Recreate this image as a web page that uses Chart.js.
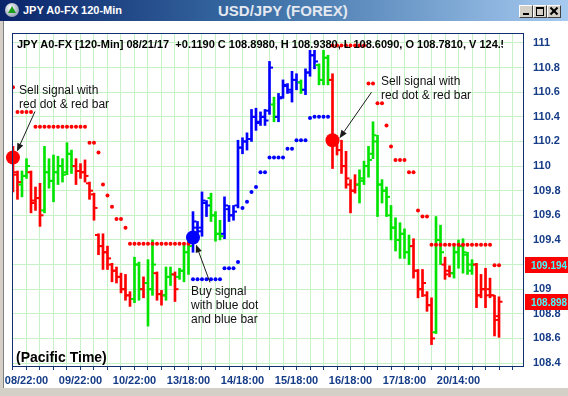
<!DOCTYPE html>
<html><head><meta charset="utf-8">
<script src="https://cdn.jsdelivr.net/npm/chart.js@4/dist/chart.umd.min.js"></script>
<style>
html,body{margin:0;padding:0;background:#fff;width:568px;height:396px;overflow:hidden;font-family:Arial,"Liberation Sans",sans-serif;}
#wrap{position:relative;width:568px;height:396px;background:#fff;}
canvas{position:absolute;left:0;top:0;}
.abs{position:absolute;white-space:nowrap;}
#titlebar{left:0;top:0;width:568px;height:21px;background:linear-gradient(to right,#0a246a 0%,#3a6ea5 45%,#a6caf0 100%);}
#t1{left:23px;top:4px;font-size:11px;font-weight:bold;color:#fff;line-height:13px;}
#t2{left:218px;top:2px;font-size:15px;font-weight:bold;color:#e4e8f0;line-height:17px;}
#icon{left:5px;top:3px;width:14px;height:14px;border-radius:50%;background:radial-gradient(circle at 40% 35%,#ffffff,#9aa6b8 70%,#4a5668);}
#icontri{left:8px;top:6px;width:0;height:0;border-left:4px solid transparent;border-right:4px solid transparent;border-bottom:7px solid #1aa01a;}
.btn{top:5px;width:12px;height:11px;background:#d4d0c8;border-top:1px solid #fff;border-left:1px solid #fff;border-right:1px solid #404040;border-bottom:1px solid #404040;}
#leftframe{left:0;top:21px;width:4px;height:375px;background:#d4d0c8;border-right:1px solid #808080;box-sizing:border-box;}
#bottomframe{left:0;top:388px;width:568px;height:8px;background:#d4d0c8;}
#hdrclip{left:17px;top:37px;width:486px;height:14px;overflow:hidden;}
#hdr{left:0;top:0;font-size:11px;font-weight:bold;color:#000;line-height:14px;}
#pt{left:16px;top:349px;font-size:14px;font-weight:bold;color:#000;line-height:16px;}
.note{font-size:12px;color:#111;line-height:14px;}
</style></head>
<body>
<div id="wrap">
<canvas id="c" width="568" height="396"></canvas>
<div id="titlebar" class="abs"></div>
<div id="icon" class="abs"></div>
<div id="icontri" class="abs"></div>
<div id="t1" class="abs">JPY A0-FX 120-Min</div>
<div id="t2" class="abs">USD/JPY (FOREX)</div>
<div class="abs btn" style="left:519px"><div class="abs" style="left:3px;top:7px;width:6px;height:2px;background:#000"></div></div>
<div class="abs btn" style="left:533px"><div class="abs" style="left:2px;top:1px;width:6px;height:6px;border:1px solid #000;border-top-width:2px"></div></div>
<div class="abs btn" style="left:547px"><div class="abs" style="left:1px;top:4px;width:10px;height:2px;background:#000;transform:rotate(45deg)"></div><div class="abs" style="left:1px;top:4px;width:10px;height:2px;background:#000;transform:rotate(-45deg)"></div></div>
<div id="leftframe" class="abs"></div>
<div id="bottomframe" class="abs"></div>
<div id="hdrclip" class="abs"><div id="hdr" class="abs">JPY A0-FX [120-Min] 08/21/17&nbsp; +0.1190 C 108.8980, H 108.9380, L 108.6090, O 108.7810, V 124.54</div></div>
<div id="pt" class="abs">(Pacific Time)</div>
<div class="abs note" style="left:19px;top:83px">Sell signal with<br>red dot &amp; red bar</div>
<div class="abs note" style="left:381px;top:74px">Sell signal with<br>red dot &amp; red bar</div>
<div class="abs note" style="left:191px;top:284px">Buy signal<br>with blue dot<br>and blue bar</div>
</div>
<script>
// ---- data (one entry per 120-minute bar) ----
const barHigh = [110.16,109.96,109.96,110.06,109.96,109.83,109.86,110.16,110.06,110.09,110.08,110.06,110.19,110.13,110.06,110.02,110.05,109.87,109.78,109.45,
109.45,109.35,109.21,109.18,109.13,109.12,108.98,109.26,109.22,109.10,109.24,109.40,109.14,108.99,109.18,109.18,109.14,109.17,109.36,109.39,
109.63,109.55,109.79,109.72,109.78,109.63,109.56,109.75,109.68,109.68,110.21,110.23,110.27,110.46,110.47,110.44,110.46,110.85,110.56,110.59,
110.70,110.67,110.77,110.75,110.70,110.79,110.94,110.94,110.83,110.94,110.90,110.75,110.21,110.21,110.12,109.89,109.93,109.97,110.04,110.16,
110.36,110.25,109.89,109.83,109.68,109.58,109.54,109.49,109.44,109.41,109.16,109.16,108.98,108.93,109.59,109.52,109.26,109.19,109.35,109.40,
109.41,109.30,109.24,109.21,109.12,109.17,109.09,108.95,108.938];
const barLow = [109.79,109.73,109.75,109.90,109.62,109.64,109.51,109.62,109.82,109.71,109.85,109.87,109.93,109.94,109.85,109.90,109.87,109.73,109.56,109.28,
109.16,109.16,109.06,109.05,108.97,108.91,108.86,108.89,108.91,108.93,108.70,108.95,108.91,108.87,108.91,109.03,108.90,109.08,109.06,109.12,
109.30,109.44,109.43,109.59,109.55,109.39,109.40,109.41,109.55,109.56,109.66,110.10,110.13,110.20,110.29,110.33,110.33,110.42,110.36,110.36,
110.55,110.59,110.52,110.62,110.59,110.58,110.73,110.79,110.66,110.66,110.66,109.98,110.09,109.94,109.82,109.62,109.78,109.70,109.85,109.91,
110.06,109.59,109.70,109.59,109.40,109.31,109.25,109.25,109.20,109.09,108.93,108.94,108.82,108.55,108.64,109.20,109.08,109.10,109.09,109.17,
109.13,109.12,109.12,108.85,108.93,108.85,108.93,108.62,108.609];
const barOpen = [110.07,109.93,109.85,109.92,109.95,109.72,109.74,109.64,109.95,109.88,109.95,110.00,109.95,110.10,110.00,109.96,109.95,109.86,109.77,109.44,
109.35,109.30,109.20,109.15,109.10,109.00,108.95,108.92,109.20,109.00,109.05,109.00,109.13,108.96,108.95,109.10,109.12,109.10,109.15,109.30,
109.40,109.50,109.50,109.70,109.74,109.60,109.45,109.45,109.65,109.60,109.68,110.15,110.20,110.22,110.40,110.36,110.40,110.45,110.50,110.40,
110.56,110.65,110.60,110.70,110.68,110.62,110.76,110.90,110.82,110.70,110.88,110.70,110.20,110.13,110.00,109.85,109.80,109.85,109.88,110.00,
110.10,110.20,109.85,109.80,109.60,109.50,109.40,109.45,109.30,109.35,109.15,109.00,108.95,108.87,108.65,109.40,109.20,109.15,109.13,109.30,
109.35,109.28,109.15,109.20,108.95,109.00,109.00,108.95,108.781];
const barClose = [109.95,109.87,109.92,110.00,109.70,109.74,109.60,109.95,109.88,109.95,110.00,109.93,110.10,110.00,109.96,109.95,109.92,109.80,109.66,109.35,
109.30,109.25,109.15,109.10,109.00,108.95,108.92,109.20,109.00,109.05,109.00,109.20,108.96,108.95,109.10,109.12,109.00,109.15,109.30,109.35,
109.55,109.47,109.72,109.68,109.60,109.45,109.43,109.68,109.60,109.63,110.15,110.20,110.22,110.40,110.35,110.40,110.37,110.80,110.40,110.55,
110.66,110.62,110.70,110.68,110.62,110.76,110.90,110.85,110.70,110.88,110.70,110.20,110.13,110.00,109.90,109.80,109.85,109.90,110.00,110.05,
110.25,109.85,109.80,109.75,109.50,109.40,109.45,109.30,109.35,109.15,109.00,109.05,108.87,108.60,109.40,109.30,109.12,109.13,109.30,109.35,
109.30,109.20,109.20,108.95,109.00,108.95,108.95,108.75,108.898];
// trend colour of each bar: r = down trend, g = neutral, b = up trend
const barTrend = ['r','r','g','g','r','r','r','g','g','g','g','g','g','g','r','r','r','r','r','r',
'r','r','r','r','r','r','r','g','g','r','g','g','r','r','g','g','r','g','g','g',
'b','b','b','b','g','g','g','b','b','b','b','b','b','b','b','b','b','b','g','b',
'b','b','b','b','g','b','b','b','g','g','g','r','r','r','r','r','r','g','g','g',
'g','g','g','g','g','g','g','g','g','r','r','r','r','r','g','g','r','r','g','g',
'g','g','g','r','r','r','r','r','r'];
// trailing stop dots
const redStop = [110.64,110.44,110.44,110.44,110.44,110.32,110.32,110.32,110.32,110.32,110.32,110.32,110.32,110.32,110.32,110.32,110.32,110.19,110.19,110.11,
109.85,109.76,109.67,109.57,109.57,109.50,109.37,109.37,109.37,109.37,109.37,109.37,109.37,109.37,109.37,109.37,109.37,109.37,109.37,109.37,
null,null,null,null,null,null,null,null,null,null,null,null,null,null,null,null,null,null,null,null,
null,null,null,null,null,null,null,null,null,null,null,110.98,110.98,110.98,110.98,110.98,110.98,110.98,110.98,110.67,
110.67,110.51,110.51,110.33,110.16,110.05,110.05,110.05,109.95,109.95,109.64,109.59,109.59,109.36,109.36,109.36,109.36,109.36,109.36,109.36,
109.36,109.36,109.36,109.36,109.36,109.36,109.36,109.194,109.194];
const blueStop = [null,null,null,null,null,null,null,null,null,null,null,null,null,null,null,null,null,null,null,null,
null,null,null,null,null,null,null,null,null,null,null,null,null,null,null,null,null,null,null,null,
109.08,109.08,109.08,109.08,109.08,109.08,109.08,109.17,109.17,109.17,109.22,109.66,109.71,109.79,109.83,109.95,109.95,110.07,110.07,110.07,
110.07,110.14,110.14,110.21,110.21,110.21,110.39,110.40,110.40,110.40,110.40,null,null,null,null,null,null,null,null,null,
null,null,null,null,null,null,null,null,null,null,null,null,null,null,null,null,null,null,null,null,
null,null,null,null,null,null,null,null,null];
// signals
const sellSignalBar = [0, 71];
const sellSignalPrice = [110.07, 110.21];
const buySignalBar = [40];
const buySignalPrice = [109.42];
// last values shown on the price axis
const lastStop = 109.194;
const lastClose = 108.898;
// time axis labels
const tickIndex = [3, 15, 27, 39, 51, 63, 75, 87, 99];
const tickLabel = ['08/22:00','09/22:00','10/22:00','13/18:00','14/18:00','15/18:00','16/18:00','17/18:00','20/14:00'];
const priceMin = 108.376, priceMax = 111.081;

// ---- chart ----
const FONT = 'Arial, "Liberation Sans", sans-serif';
Chart.defaults.font.family = FONT;
const trendColor = {r:'#ff0000', g:'#00e400', b:'#0000ff'};
const colors = barTrend.map(t => trendColor[t]);
const idx = barHigh.map((_, i) => i);
const AXIS = '#163c87';

function drawArrow(ctx, x1, y1, x2, y2) {
  const ang = Math.atan2(y2 - y1, x2 - x1);
  const hl = 8, hw = 3.2;
  const bx = x2 - Math.cos(ang) * hl, by = y2 - Math.sin(ang) * hl;
  ctx.beginPath(); ctx.moveTo(x1, y1); ctx.lineTo(bx, by); ctx.stroke();
  ctx.beginPath();
  ctx.moveTo(x2, y2);
  ctx.lineTo(bx + Math.sin(ang) * hw, by - Math.cos(ang) * hw);
  ctx.lineTo(bx - Math.sin(ang) * hw, by + Math.cos(ang) * hw);
  ctx.closePath(); ctx.fill();
}

const overlay = {
  id: 'overlay',
  afterDatasetsDraw(chart) {
    const {ctx, scales: {x, y}} = chart;
    ctx.save();
    ctx.strokeStyle = '#1a1a1a'; ctx.fillStyle = '#1a1a1a'; ctx.lineWidth = 1;
    let px = x.getPixelForValue(sellSignalBar[0]), py = y.getPixelForValue(sellSignalPrice[0]);
    drawArrow(ctx, px + 22, py - 46, px + 4, py - 6);
    px = x.getPixelForValue(sellSignalBar[1]); py = y.getPixelForValue(sellSignalPrice[1]);
    drawArrow(ctx, px + 39, py - 48, px + 7, py - 2);
    px = x.getPixelForValue(buySignalBar[0]); py = y.getPixelForValue(buySignalPrice[0]);
    drawArrow(ctx, px + 17, py + 45, px + 3, py + 7);
    ctx.restore();
  },
  afterDraw(chart) {
    const {ctx, chartArea: a, scales: {y}} = chart;
    ctx.save();
    ctx.strokeStyle = '#102f6e'; ctx.lineWidth = 1;
    ctx.strokeRect(Math.round(a.left) + 0.5, Math.round(a.top) + 0.5, Math.round(a.width), Math.round(a.height));
    [lastStop, lastClose].forEach(v => {
      const yy = Math.round(y.getPixelForValue(v));
      ctx.fillStyle = '#ff0000';
      ctx.fillRect(a.right + 2, yy - 8, 50, 16);
      ctx.fillStyle = '#40ffff';
      ctx.font = 'bold 10px ' + FONT;
      ctx.textBaseline = 'middle'; ctx.textAlign = 'left';
      ctx.fillText(v.toFixed(3), a.right + 8, yy + 1);
    });
    ctx.restore();
  }
};

new Chart(document.getElementById('c'), {
  type: 'bar',
  data: {
    datasets: [
      { type: 'scatter', label: 'signals', data: sellSignalBar.map((b, i) => ({x: b, y: sellSignalPrice[i]})),
        pointRadius: 7, pointBackgroundColor: '#ff0000', pointBorderWidth: 0, clip: false, order: 0 },
      { type: 'scatter', label: 'buy', data: buySignalBar.map((b, i) => ({x: b, y: buySignalPrice[i]})),
        pointRadius: 7, pointBackgroundColor: '#0000ff', pointBorderWidth: 0, clip: false, order: 0 },
      { type: 'scatter', label: 'redStop', data: idx.filter(i => redStop[i] != null).map(i => ({x: i, y: redStop[i]})),
        pointRadius: 2, pointBackgroundColor: '#ff0000', pointBorderWidth: 0, order: 1 },
      { type: 'scatter', label: 'blueStop', data: idx.filter(i => blueStop[i] != null).map(i => ({x: i, y: blueStop[i]})),
        pointRadius: 2, pointBackgroundColor: '#0000ff', pointBorderWidth: 0, order: 1 },
      { type: 'scatter', label: 'open', data: idx.map(i => ({x: i, y: barOpen[i]})),
        pointStyle: 'dash', rotation: 180, pointRadius: 3.5, pointBorderWidth: 2, pointBorderColor: colors, order: 2 },
      { type: 'scatter', label: 'close', data: idx.map(i => ({x: i, y: barClose[i]})),
        pointStyle: 'dash', rotation: 0, pointRadius: 3.5, pointBorderWidth: 2, pointBorderColor: colors, order: 2 },
      { type: 'bar', label: 'range', data: idx.map(i => ({x: i, y: [barLow[i], barHigh[i]]})),
        backgroundColor: colors, borderWidth: 0, barThickness: 2, grouped: false, order: 3 }
    ]
  },
  options: {
    responsive: false, animation: false, events: [],
    layout: { padding: { left: 12, top: 33, right: 0, bottom: 0 } },
    plugins: { legend: { display: false }, tooltip: { enabled: false } },
    scales: {
      x: {
        type: 'linear', min: -0.22, max: 113.33, offset: false,
        afterBuildTicks: s => { const t = []; for (let i = 0; i <= 111; i += 3) t.push({value: i}); s.ticks = t; },
        afterFit: s => { s.height = 30; },
        grid: { offset: false, color: '#c6f2c6', lineWidth: 1, drawTicks: true, tickLength: 4, tickColor: AXIS },
        border: { display: false },
        ticks: { autoSkip: false, maxRotation: 0, minRotation: 0, padding: 4, color: AXIS,
          font: { size: 11, weight: 'bold' },
          callback: v => { const k = tickIndex.indexOf(Math.round(v)); return k >= 0 ? tickLabel[k] : ''; } }
      },
      y: {
        position: 'right', min: priceMin, max: priceMax,
        afterBuildTicks: s => { const t = []; for (let k = 1084; k <= 1110; k++) t.push({value: k / 10}); s.ticks = t; },
        afterFit: s => { s.width = 45; },
        grid: { color: '#c6f2c6', lineWidth: 1, drawTicks: false },
        border: { display: false },
        ticks: { padding: 10, color: AXIS, font: { size: 11, weight: 'bold' },
          callback: v => { const k = Math.round(v * 10); return k % 2 === 0 ? String(k / 10) : ''; } }
      }
    }
  },
  plugins: [overlay]
});
</script>
</body></html>
